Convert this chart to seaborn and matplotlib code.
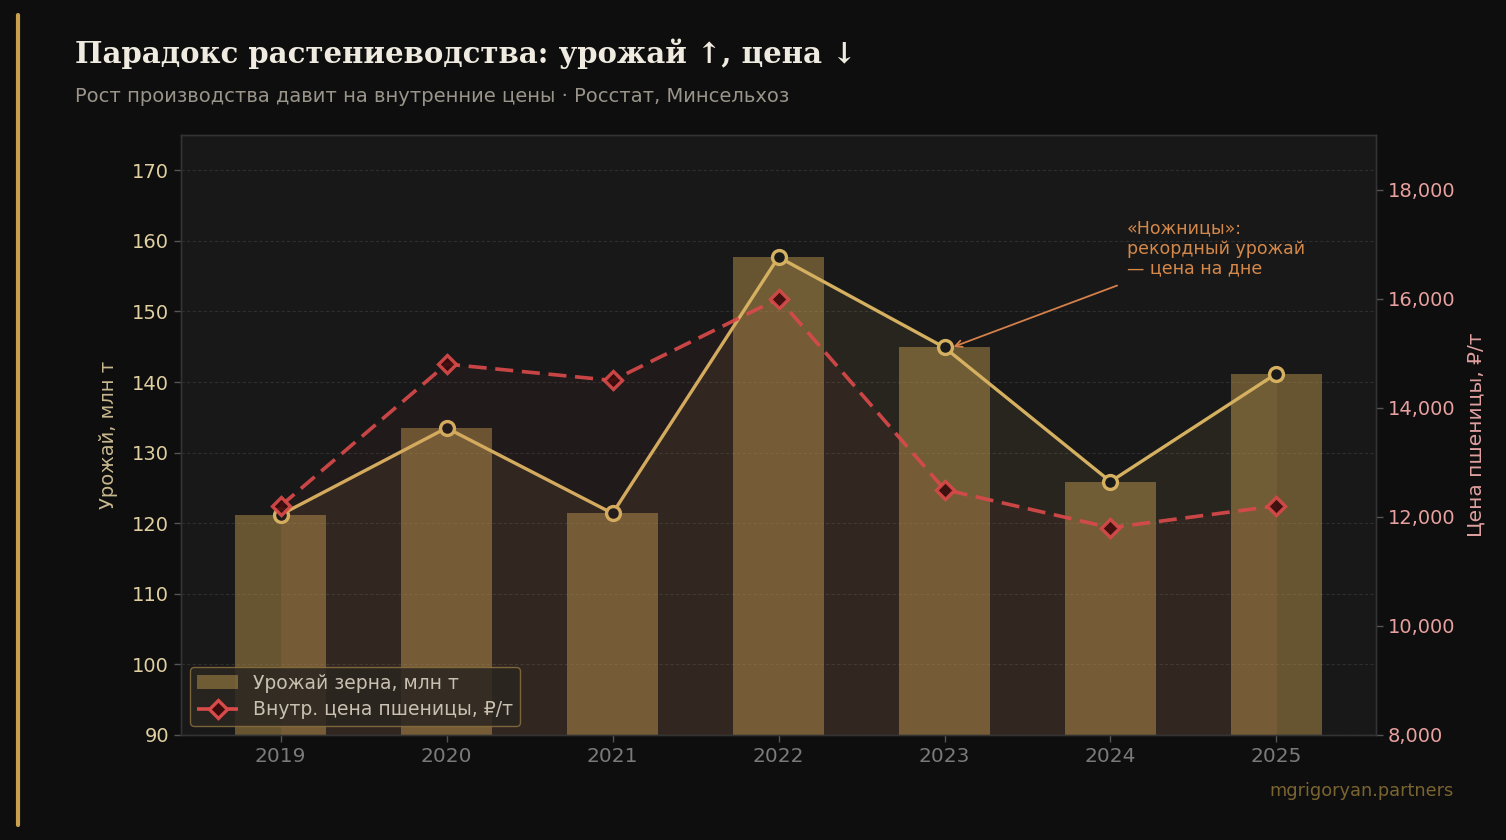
import numpy as np
import seaborn as sns
from matplotlib import pyplot as plt
from matplotlib.lines import Line2D
from matplotlib.patches import Patch

years = [2019, 2020, 2021, 2022, 2023, 2024, 2025]
harvest = [121.2, 133.5, 121.4, 157.7, 144.9, 125.9, 141.2]
price = [12200, 14800, 14500, 16000, 12500, 11800, 12200]

left_ticks = [90, 100, 110, 120, 130, 140, 150, 160, 170]
right_ticks = [8000, 10000, 12000, 14000, 16000, 18000]

GOLD = '#d4b060'
BAR = '#c8a050'
RED = '#d94a4a'
BG = '#0e0e0e'
AX_BG = '#181818'

sns.set_theme(style="dark")
plt.rcParams['font.family'] = ['DejaVu Sans']
plt.rcParams['axes.unicode_minus'] = False

fig = plt.figure(figsize=(15.06, 8.4), dpi=100, facecolor=BG)
ax = fig.add_axes([0.1202, 0.125, 0.7935, 0.7143])
ax.set_facecolor(AX_BG)

# bars + area under the harvest line
sns.barplot(x=years, y=harvest, native_scale=True, width=0.55, color=BAR,
            alpha=0.45, saturation=1, edgecolor='none', linewidth=0,
            ax=ax, zorder=2)
ax.fill_between(years, harvest, 90, color=GOLD, alpha=0.09, lw=0, zorder=3)
sns.lineplot(x=years, y=harvest, ax=ax, color=GOLD, lw=2.4, marker='o',
             markersize=10, markerfacecolor='#1a1a1a', markeredgecolor=GOLD,
             markeredgewidth=2.4, zorder=5)

ax.set_xlim(2018.4, 2025.6)
ax.set_ylim(90, 175)
ax.set_xticks(years)
ax.set_xticklabels([str(y) for y in years])
ax.set_yticks(left_ticks)
ax.grid(axis='y', color='#2e2e2e', linestyle=(0, (3, 2)), lw=0.8)
ax.grid(axis='x', visible=False)
ax.set_xlabel('')
ax.set_ylabel('Урожай, млн т', color='#c8b890', fontsize=14, labelpad=10)
ax.tick_params(axis='y', colors='#555555', labelcolor='#e0cfa0', labelsize=14,
               length=5, width=1, left=True)
ax.tick_params(axis='x', colors='#555555', labelcolor='#7a7a7a', labelsize=14.5,
               length=5, width=1, bottom=True)

# price on the right axis
ax2 = ax.twinx()
ax2.fill_between(years, price, 8000, color=RED, alpha=0.05, lw=0, zorder=1)
sns.lineplot(x=years, y=price, ax=ax2, color=RED, lw=2.6, alpha=0.92,
             marker='D', markersize=9, markerfacecolor='#3a0c0c',
             markeredgecolor=RED, markeredgewidth=2.4, zorder=4)
ax2.lines[0].set_dashes([5, 2.4])
ax2.set_ylim(8000, 19000)
ax2.set_yticks(right_ticks)
ax2.set_yticklabels([f'{t:,}' for t in right_ticks])
ax2.grid(False)
ax2.set_ylabel('Цена пшеницы, ₽/т', color='#e0a0a0', fontsize=14.5, labelpad=8)
ax2.tick_params(axis='y', colors='#555555', labelcolor='#e8a0a0', labelsize=14,
                length=5, width=1, right=True)

for a in (ax, ax2):
    for s in a.spines.values():
        s.set_color('#333333')
        s.set_linewidth(1)

# annotation
ax2.annotate('', xy=(2023.03, 15090), xytext=(2024.04, 16240),
             arrowprops=dict(arrowstyle='->', color='#d4804a', lw=1.3,
                             shrinkA=0, shrinkB=3), zorder=6)
ax2.text(2024.1, 17450, '«Ножницы»:\nрекордный урожай\n— цена на дне',
         color='#d4884a', fontsize=12.5, ha='left', va='top',
         linespacing=1.15, zorder=6)

# legend
handles = [
    Patch(facecolor=BAR, alpha=0.45, edgecolor='none'),
    Line2D([0], [0], color=RED, lw=2.6, ls=(0, (5, 2.4)), marker='D',
           markersize=9, markerfacecolor='#3a0c0c', markeredgecolor=RED,
           markeredgewidth=2.4),
]
leg = ax2.legend(handles, ['Урожай зерна, млн т', 'Внутр. цена пшеницы, ₽/т'],
                 loc='lower left', bbox_to_anchor=(0.0, 0.0), fontsize=13.5,
                 frameon=True, facecolor='#2a2520', edgecolor='#8a7040',
                 framealpha=0.85, borderpad=0.35, handlelength=2.2,
                 labelspacing=0.4, fancybox=True)
for t in leg.get_texts():
    t.set_color('#c8c0b0')
leg.set_zorder(10)

# titles and decorations
fig.text(0.0498, 0.936, 'Парадокс растениеводства: урожай ↑, цена ↓',
         family='DejaVu Serif', weight='bold', fontsize=21, color='#f0ebe0',
         va='center', ha='left')
fig.text(0.0498, 0.885, 'Рост производства давит на внутренние цены · Росстат, Минсельхоз',
         fontsize=14, color='#9a958a', va='center', ha='left')
fig.text(0.965, 0.058, 'mgrigoryan.partners', fontsize=12.8, color='#7a6430',
         ha='right', va='center')
fig.add_artist(Line2D([0.0118, 0.0118], [0.018, 0.982], color='#c8a050',
                      lw=3, transform=fig.transFigure))

fig.savefig('out.png', dpi=100, facecolor=BG)
